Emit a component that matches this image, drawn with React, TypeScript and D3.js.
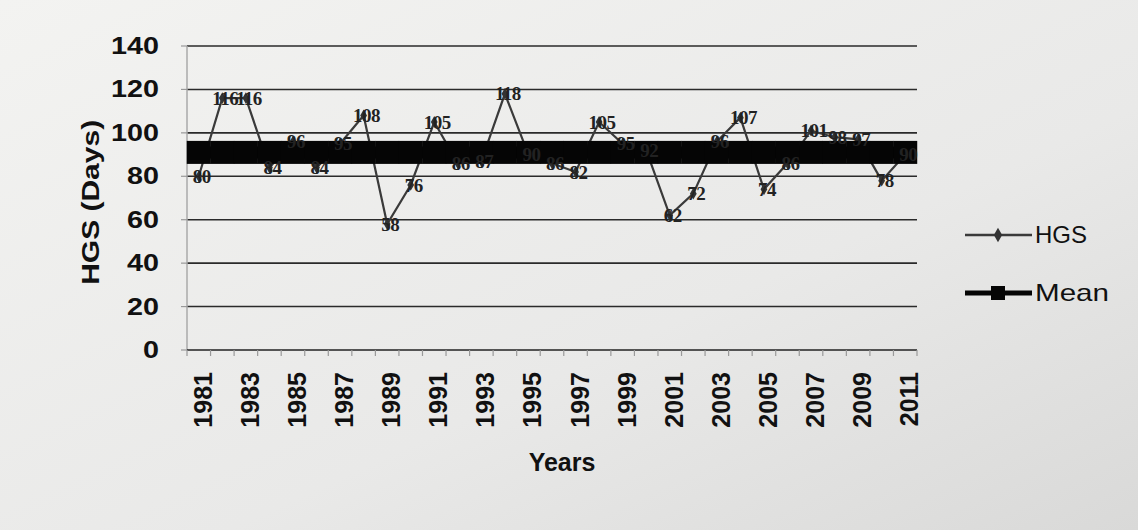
import * as d3 from "d3";

const years = d3.range(1981, 2012).map(String);
// HGS (days); values hidden under the mean band are estimates
const hgsDays = [
  80, 116, 116, 84, 96, 84, 95, 108, 58, 76, 105, 86, 87, 118, 90, 86, 82, 105,
  95, 92, 62, 72, 96, 107, 74, 86, 101, 98, 97, 78, 90,
];
const meanDays = 91;
const yTicks = [0, 20, 40, 60, 80, 100, 120, 140];

const W = 1138;
const H = 530;

export default function App() {
  const x = d3.scaleBand<string>().domain(years).range([187, 917]);
  const y = d3.scaleLinear().domain([0, 140]).range([350, 46]);
  const cx = (yr: string) => (x(yr) ?? 0) + x.bandwidth() / 2;

  const hgsLine = d3
    .line<number>()
    .x((_, i) => cx(years[i]))
    .y((d) => y(d));
  const meanLine = d3
    .line<string>()
    .x((yr) => cx(yr))
    .y(() => y(meanDays));

  const font = "'Liberation Sans', Arial, sans-serif";

  return (
    <div style={{ position: "fixed", left: 0, top: 0 }}>
      <svg width={W} height={H} style={{ display: "block" }}>
        <defs>
          <linearGradient id="paper" x1="0" y1="0" x2="1" y2="1">
            <stop offset="0" stopColor="#f3f3f1" />
            <stop offset="0.6" stopColor="#e9e9e8" />
            <stop offset="1" stopColor="#d9d9d8" />
          </linearGradient>
        </defs>
        <rect width={W} height={H} fill="url(#paper)" />

        {/* gridlines */}
        {yTicks
          .filter((t) => t > 0)
          .map((t) => (
            <line
              key={t}
              x1={187}
              x2={917}
              y1={y(t)}
              y2={y(t)}
              stroke="#2a2a2a"
              strokeWidth={1.6}
            />
          ))}

        {/* axes */}
        <line x1={187} x2={187} y1={y(140)} y2={y(0)} stroke="#aaa" strokeWidth={1.5} />
        <line x1={187} x2={917} y1={y(0)} y2={y(0)} stroke="#222" strokeWidth={1.6} />
        {years.concat(["end"]).map((yr, i) => {
          const tx = 187 + i * x.step();
          return (
            <line key={yr} x1={tx} x2={tx} y1={y(0)} y2={y(0) + 6} stroke="#999" strokeWidth={1.2} />
          );
        })}
        {yTicks.map((t) => (
          <g key={t}>
            <line x1={181} x2={187} y1={y(t)} y2={y(t)} stroke="#999" strokeWidth={1.2} />
            <text
              transform={`translate(159,${y(t)}) scale(1.25,1)`}
              dy="0.35em"
              textAnchor="end"
              fontFamily={font}
              fontWeight="bold"
              fontSize={23}
              fill="#111"
            >
              {t}
            </text>
          </g>
        ))}
        {years
          .filter((_, i) => i % 2 === 0)
          .map((yr) => (
            <text
              key={yr}
              transform={`translate(${cx(yr) + 13},${372}) rotate(-90)`}
              textAnchor="end"
              fontFamily={font}
              fontWeight="bold"
              fontSize={25}
              fill="#111"
            >
              {yr}
            </text>
          ))}

        <text
          transform={`translate(99,${y(68)}) rotate(-90)`}
          textAnchor="middle"
          fontFamily={font}
          fontWeight="bold"
          fontSize={23}
          textLength={165}
          lengthAdjust="spacingAndGlyphs"
          fill="#111"
        >
          HGS (Days)
        </text>
        <text x={562} y={471} textAnchor="middle" fontFamily={font} fontWeight="bold" fontSize={25} fill="#111">
          Years
        </text>

        {/* HGS series */}
        <path d={hgsLine(hgsDays) ?? ""} fill="none" stroke="#3a3a3a" strokeWidth={2.2} />
        {hgsDays.map((v, i) => (
          <path
            key={i}
            d={d3.symbol(d3.symbolDiamond, 40)() ?? ""}
            transform={`translate(${cx(years[i])},${y(v)})`}
            fill="#333"
          />
        ))}

        {/* Mean series */}
        <path d={meanLine(years) ?? ""} fill="none" stroke="#050505" strokeWidth={12} />
        {years.map((yr) => (
          <rect key={yr} x={cx(yr) - 12} y={y(meanDays) - 11.5} width={24} height={23} fill="#050505" />
        ))}

        {/* data labels */}
        {hgsDays.map((v, i) => (
          <text
            key={i}
            x={cx(years[i]) + 3}
            y={y(v)}
            dy="0.35em"
            textAnchor="middle"
            fontFamily="'Liberation Serif', serif"
            fontWeight="bold"
            fontSize={19}
            fill="#222"
            letterSpacing={-0.5}
          >
            {v}
          </text>
        ))}

        {/* legend */}
        <line x1={965} x2={1032} y1={235} y2={235} stroke="#3a3a3a" strokeWidth={2.5} />
        <path d={d3.symbol(d3.symbolDiamond, 60)() ?? ""} transform="translate(998,235)" fill="#333" />
        <text x={1035} y={235} dy="0.35em" fontFamily={font} fontSize={24} fill="#111">
          HGS
        </text>
        <line x1={965} x2={1032} y1={293} y2={293} stroke="#050505" strokeWidth={5} />
        <rect x={991} y={286} width={14} height={14} fill="#050505" />
        <text
          x={1035}
          y={293}
          dy="0.35em"
          fontFamily={font}
          fontSize={24}
          textLength={74}
          lengthAdjust="spacingAndGlyphs"
          fill="#111"
        >
          Mean
        </text>
      </svg>
    </div>
  );
}
